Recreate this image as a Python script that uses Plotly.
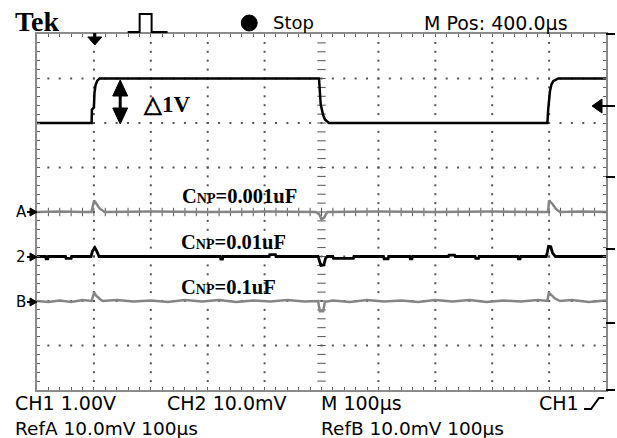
import plotly.graph_objects as go

# ---------------- data (time in us, vertical position in screen divisions) ----------------
ch1_t = [0, 96, 96.5, 100, 101, 103, 106, 110, 495.6, 496.8, 498.6, 502.6, 506, 513,
         897, 898.4, 901.4, 904, 907.2, 916, 1000]
ch1_v = [2.0, 2.0, 2.3, 2.35, 2.68, 2.86, 2.95, 3.0, 3.0, 2.75, 2.42, 2.19, 2.08, 2.0,
         2.0, 2.3, 2.71, 2.86, 2.94, 3.0, 3.0]

refA_t = [0, 40, 80, 95.8, 100.4, 104, 110, 119, 200, 300, 400, 490, 496, 500, 505, 510,
          600, 700, 800, 890, 898, 900, 906, 912, 919, 960, 1000]
refA_v = [0.0, 0.01, 0.0, 0.0, 0.26, 0.18, 0.08, 0.0, 0.01, 0.0, 0.01, 0.0, -0.05, -0.17,
          -0.12, 0.0, 0.01, 0.0, 0.01, 0.0, 0.0, 0.26, 0.18, 0.07, 0.0, 0.01, 0.0]

ch2_t = [0, 15, 16, 19, 20, 50, 51, 60, 61, 95, 97.5, 101.6, 105, 109, 322, 323, 326, 327,
         408, 409, 419, 420, 494, 496, 499, 504, 507, 510, 520, 521, 556, 557, 609, 610,
         617, 618, 655, 656, 659, 660, 723, 724, 734, 735, 770, 771, 776, 777, 845, 846,
         849, 850, 895, 897, 899, 903, 906, 911, 1000]
ch2_v = [-1.0, -1.0, -1.05, -1.05, -1.0, -1.0, -1.04, -1.04, -1.0, -1.0, -0.88, -0.8, -0.88,
         -1.0, -1.0, -1.06, -1.06, -1.0, -1.0, -0.96, -0.96, -1.0, -1.0, -1.1, -1.2, -1.19,
         -1.05, -1.0, -1.0, -1.04, -1.04, -1.0, -1.0, -1.05, -1.05, -1.0, -1.0, -1.05, -1.05,
         -1.0, -1.0, -0.97, -0.97, -1.0, -1.0, -1.04, -1.04, -1.0, -1.0, -1.05, -1.05, -1.0,
         -1.0, -0.9, -0.77, -0.78, -0.92, -1.0, -1.0]

refB_t = [0, 20, 40, 60, 80, 95.8, 100.4, 104, 110, 115, 140, 170, 200, 230, 260, 290, 320,
          350, 380, 410, 440, 470, 494, 497, 503, 506, 520, 550, 580, 610, 640, 670, 700,
          730, 760, 790, 820, 850, 880, 897, 899.5, 904, 910, 919, 940, 970, 1000]
refB_v = [-2.0, -2.02, -1.99, -2.02, -1.98, -2.0, -1.81, -1.88, -1.95, -2.0, -1.98, -2.01,
          -1.99, -2.02, -1.98, -2.01, -1.98, -2.02, -1.99, -2.01, -1.98, -2.01, -2.0, -2.23,
          -2.23, -2.02, -1.99, -2.02, -1.98, -2.01, -1.99, -2.02, -1.98, -2.01, -1.98, -2.02,
          -1.99, -2.01, -1.98, -2.0, -1.81, -1.87, -1.94, -2.0, -1.98, -2.02, -1.99]

cnp_labels = ["0.001uF", "0.01uF", "0.1uF"]

# ---------------- layout geometry ----------------
W, H = 617, 438
L, R, T, B = 37, 608, 34, 390


def xp(px):
    return (px - L) / (R - L)


def yp(py):
    return (B - py) / (B - T)


fig = go.Figure()

# graticule dots
gx, gy = [], []
for k in range(1, 10):
    if k == 5:
        continue
    for j in range(1, 40):
        gx.append(k * 100)
        gy.append(-4 + j * 0.2)
for k in range(-3, 4):
    if k == 0:
        continue
    for j in range(1, 50):
        gx.append(j * 20)
        gy.append(k)
fig.add_trace(go.Scatter(x=gx, y=gy, mode="markers", hoverinfo="skip",
                         marker=dict(symbol="square", size=2, color="#555555", line=dict(width=0))))
cx = [500] * 39
cy = [-4 + j * 0.2 for j in range(1, 40)]
fig.add_trace(go.Scatter(x=cx, y=cy, mode="markers", hoverinfo="skip",
                         marker=dict(symbol="line-ew", size=6, line=dict(width=1, color="#555555"))))
fig.add_trace(go.Scatter(x=[j * 20 for j in range(1, 50)], y=[0] * 49, mode="markers", hoverinfo="skip",
                         marker=dict(symbol="line-ns", size=6, line=dict(width=1, color="#555555"))))

# waveforms
fig.add_trace(go.Scatter(x=refA_t, y=refA_v, mode="lines", line=dict(color="#858585", width=2.5)))
fig.add_trace(go.Scatter(x=refB_t, y=refB_v, mode="lines", line=dict(color="#858585", width=2.5)))
fig.add_trace(go.Scatter(x=ch2_t, y=ch2_v, mode="lines", line=dict(color="black", width=2.8)))
fig.add_trace(go.Scatter(x=ch1_t, y=ch1_v, mode="lines", line=dict(color="black", width=2.5)))

axis_common = dict(showgrid=False, zeroline=False, showticklabels=False, showline=True,
                   linecolor="#8a8a8a", linewidth=2, mirror="ticks", ticks="inside",
                   ticklen=3, tickcolor="#666666", tickwidth=1, fixedrange=True)
fig.update_xaxes(range=[0, 1000], dtick=20, tick0=0, **axis_common)
fig.update_yaxes(range=[-4, 4], dtick=0.2, tick0=-4, **axis_common)

shapes = []
ann = []


def path_px(points, fill=None, width=1.5, color="black"):
    d = "M " + " L ".join(f"{xp(x):.5f},{yp(y):.5f}" for x, y in points)
    if fill:
        d += " Z"
    shapes.append(dict(type="path", xref="paper", yref="paper", path=d,
                       line=dict(color=color, width=width),
                       fillcolor=fill if fill else "rgba(0,0,0,0)"))


def text_px(x, y, txt, size, family, anchor="left", color="black"):
    ann.append(dict(xref="paper", yref="paper", x=xp(x), y=yp(y), text=txt, showarrow=False,
                    xanchor=anchor, yanchor="middle", font=dict(size=size, family=family, color=color)))


# header
text_px(13, 22, "<b>Tek</b>", 28, "Liberation Serif")
path_px([(128, 32), (140, 32), (140, 14), (152, 14), (152, 32), (168, 32)], width=2)
shapes.append(dict(type="circle", xref="paper", yref="paper", x0=xp(242), x1=xp(258),
                   y0=yp(31), y1=yp(15), fillcolor="black", line=dict(color="black", width=1)))
text_px(272, 23, "Stop", 18, "DejaVu Sans")
text_px(423, 23, "M Pos: 400.0\u00b5s", 19, "DejaVu Sans")

# footer
text_px(13, 403, "CH1 1.00V", 19, "DejaVu Sans")
text_px(165, 403, "CH2 10.0mV", 19, "DejaVu Sans")
text_px(320, 403, "M 100\u00b5s", 19, "DejaVu Sans")
text_px(539, 403, "CH1", 19, "DejaVu Sans")
path_px([(586, 409), (593, 409), (601, 398), (606, 398)], width=2)
text_px(13, 428, "RefA 10.0mV 100\u00b5s", 18.5, "DejaVu Sans")
text_px(320, 428, "RefB 10.0mV 100\u00b5s", 18.5, "DejaVu Sans")

# trigger position arrow (top) and trigger level arrow (right)
path_px([(95, 33), (95, 38)], width=3)
path_px([(88, 37), (102, 37), (95, 45)], fill="black", width=1)
path_px([(603, 106), (617, 106)], width=2)
path_px([(594, 106), (604, 99), (604, 113)], fill="black", width=1)
for yy in (34, 177, 249, 323, 390):
    path_px([(608, yy), (617, yy)], width=2)

# channel markers on the left
for lbl, yy in (("A", 212), ("2", 257), ("B", 302)):
    text_px(21, yy, lbl, 15, "DejaVu Sans", anchor="center")
    path_px([(27, yy), (33, yy)], width=2)
    path_px([(30, yy - 4), (30, yy + 4), (37, yy)], fill="black", width=1)

# amplitude marker
path_px([(120.5, 95), (120.5, 109)], width=3)
path_px([(113, 96), (128, 96), (120.5, 80)], fill="black", width=1)
path_px([(113, 108), (128, 108), (120.5, 124)], fill="black", width=1)
text_px(141, 104, "<b>\u25b31V</b>", 23, "Liberation Serif")

# capacitor labels
for lbl, xx, yy in zip(cnp_labels, (181, 180, 180), (196, 242, 287)):
    text_px(xx, yy, "<b>C<span style='font-size:14px'>NP</span>=" + lbl + "</b>", 20.5, "Liberation Serif")

fig.update_layout(width=W, height=H, margin=dict(l=L, r=W - R, t=T, b=H - B, pad=0),
                  paper_bgcolor="white", plot_bgcolor="white", showlegend=False,
                  shapes=shapes, annotations=ann)

fig.write_html("out.html", config={"displayModeBar": False},
               post_script="document.body.style.margin='0';document.body.style.padding='0';"
                           "document.documentElement.style.overflow='hidden';")
